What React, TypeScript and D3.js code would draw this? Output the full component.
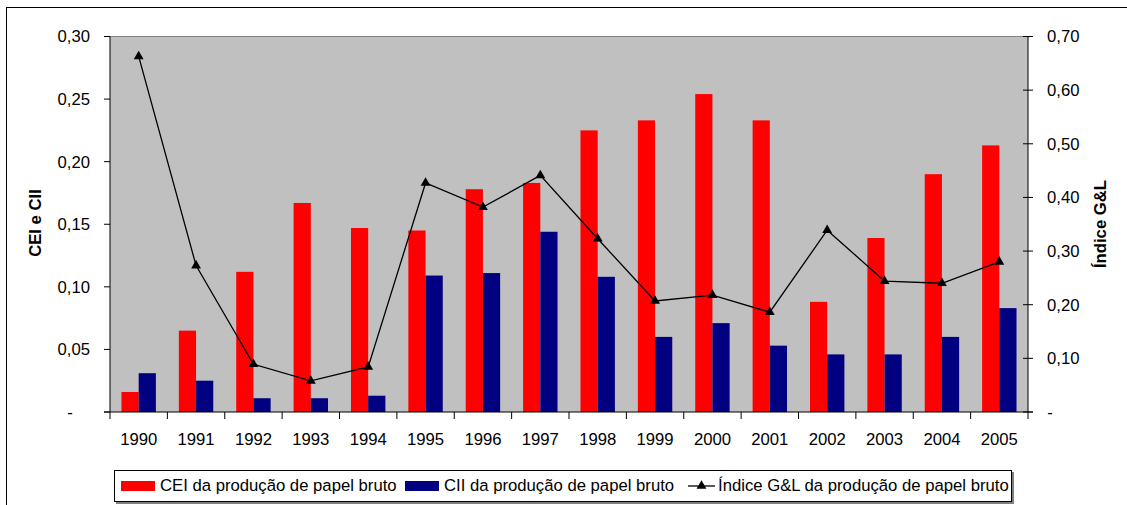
import React from "react";
import * as d3 from "d3";

const years = ["1990","1991","1992","1993","1994","1995","1996","1997","1998","1999","2000","2001","2002","2003","2004","2005"];
const cei = [0.016,0.065,0.112,0.167,0.147,0.145,0.178,0.183,0.225,0.233,0.254,0.233,0.088,0.139,0.190,0.213];
const cii = [0.031,0.025,0.011,0.011,0.013,0.109,0.111,0.144,0.108,0.060,0.071,0.053,0.046,0.046,0.060,0.083];
const gl = [0.663,0.273,0.089,0.058,0.084,0.427,0.382,0.441,0.323,0.207,0.218,0.186,0.339,0.244,0.240,0.280];
const leftTicks = [0,0.05,0.10,0.15,0.20,0.25,0.30];
const rightTicks = [0,0.1,0.2,0.3,0.4,0.5,0.6,0.7];
const seriesNames = ["CEI da produção de papel bruto","CII da produção de papel bruto","Índice G&L da produção de papel bruto"];

const W = 1127, H = 505;
const L = 110, R = 1028, T = 36.5, B = 412;
const FONT = "Arial, 'Liberation Sans', sans-serif";
const FS = 16.7;

export default function App() {
  const x = d3.scaleBand<string>().domain(years).range([L, R]).padding(0);
  const yL = d3.scaleLinear().domain([0, 0.3]).range([B, T]);
  const yR = d3.scaleLinear().domain([0, 0.7]).range([B, T]);
  const bw = 17.2;
  const fmt = (v: number) => v.toFixed(2).replace(".", ",");
  const line = d3.line<number>().x((_, i) => x(years[i])! + x.bandwidth() / 2).y(d => yR(d));
  const tri = d3.symbol().type(d3.symbolTriangle).size(42)();

  return (
    <svg width={W} height={H} style={{ position: "absolute", left: 0, top: 0, background: "#fff" }} fontFamily={FONT}>
      <rect x={6.5} y={7.5} width={1130} height={510} fill="#fff" stroke="#000" strokeWidth={1} />
      <rect x={L} y={T} width={R - L} height={B - T} fill="#C0C0C0" />
      <line x1={L} x2={R} y1={T} y2={T} stroke="#808080" strokeWidth={1} />
      {years.map((yr, i) => (
        <g key={yr}>
          <rect x={x(yr)! + x.bandwidth() / 2 - bw} y={yL(cei[i])} width={bw} height={B - yL(cei[i])} fill="#FF0000" />
          <rect x={x(yr)! + x.bandwidth() / 2} y={yL(cii[i])} width={bw} height={B - yL(cii[i])} fill="#000080" />
        </g>
      ))}
      <path d={line(gl)!} fill="none" stroke="#000" strokeWidth={1.3} />
      {gl.map((v, i) => (
        <path key={i} d={tri} transform={`translate(${x(years[i])! + x.bandwidth() / 2},${yR(v)})`} fill="#000" />
      ))}
      <line x1={L} x2={L} y1={T} y2={B} stroke="#000" />
      <line x1={R} x2={R} y1={T} y2={B} stroke="#000" />
      <line x1={L - 6} x2={R + 5} y1={B} y2={B} stroke="#000" />
      {leftTicks.map(t => (
        <g key={"l" + t}>
          <line x1={L - 6} x2={L} y1={yL(t)} y2={yL(t)} stroke="#000" />
          {t === 0 ? (
            <text x={70} y={yL(t)} dy="0.35em" textAnchor="middle" fontSize={FS}>-</text>
          ) : (
            <text x={90} y={yL(t)} dy="0.35em" textAnchor="end" fontSize={FS}>{fmt(t)}</text>
          )}
        </g>
      ))}
      {rightTicks.map(t => (
        <g key={"r" + t}>
          <line x1={R - 5} x2={R + 5} y1={yR(t)} y2={yR(t)} stroke="#000" />
          {t === 0 ? (
            <text x={1050} y={yR(t)} dy="0.35em" textAnchor="middle" fontSize={FS}>-</text>
          ) : (
            <text x={1047} y={yR(t)} dy="0.35em" textAnchor="start" fontSize={FS}>{fmt(t)}</text>
          )}
        </g>
      ))}
      {years.map((yr, i) => (
        <g key={"x" + yr}>
          <line x1={x(yr)!} x2={x(yr)!} y1={B} y2={B + 7} stroke="#000" />
          {i === years.length - 1 && <line x1={R} x2={R} y1={B} y2={B + 7} stroke="#000" />}
          <text x={x(yr)! + x.bandwidth() / 2} y={445} textAnchor="middle" fontSize={FS}>{yr}</text>
        </g>
      ))}
      <text transform={`translate(41,223) rotate(-90)`} textAnchor="middle" fontSize={FS} fontWeight="bold">CEI e CII</text>
      <text transform={`translate(1106,224) rotate(-90)`} textAnchor="middle" fontSize={FS} fontWeight="bold">Índice G&amp;L</text>
      <rect x={116} y={472} width={898} height={32} fill="#808080" />
      <rect x={114.5} y={470.5} width={897} height={31} fill="#fff" stroke="#000" />
      <rect x={121} y={481} width={34} height={10} fill="#FF0000" />
      <text x={160} y={491} fontSize={FS}>{seriesNames[0]}</text>
      <rect x={405} y={481} width={34} height={10} fill="#000080" />
      <text x={444} y={491} fontSize={FS}>{seriesNames[1]}</text>
      <line x1={688} x2={715} y1={486} y2={486} stroke="#000" strokeWidth={1.3} />
      <path d={tri} transform="translate(701.5,486)" fill="#000" />
      <text x={718} y={491} fontSize={FS}>{seriesNames[2]}</text>
    </svg>
  );
}
